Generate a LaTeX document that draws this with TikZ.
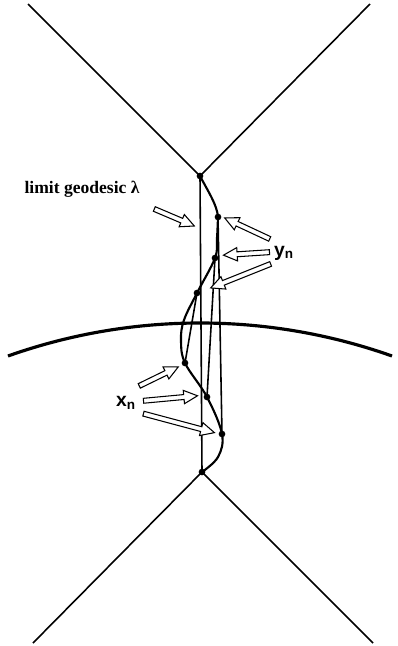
\documentclass[tikz,border=0pt]{standalone}
\usepackage{fontspec}
\setmainfont{Liberation Serif}
\setsansfont{Liberation Sans}
\usetikzlibrary{calc,shapes.arrows}

\begin{document}
\begin{tikzpicture}[
  x=0.02cm,
  y=-0.02cm,
  edge/.style={line width=.9pt},
  geo/.style={line width=1.2pt},
  horizon/.style={line width=1.8pt},
  dot/.style={circle,fill,inner sep=0pt,minimum size=3.8pt},
  hollow/.style={
    single arrow,
    draw,
    fill=white,
    line width=.6pt,
    inner xsep=0pt,
    inner ysep=1.1pt,
    single arrow head extend=2.4pt,
    single arrow tip angle=52,
    sloped,
    allow upside down
  },
  tag/.style={font=\bfseries\fontsize{10}{12}\selectfont},
  subtag/.style={font=\sffamily\bfseries\fontsize{11}{13}\selectfont}
]
  \useasboundingbox (0,0) rectangle (398,646);

  % Apexes and the points along the broken geodesic.
  \coordinate (A) at (200,176);
  \coordinate (B) at (202,472);
  \coordinate (y1) at (218,217);
  \coordinate (y2) at (215,258);
  \coordinate (y3) at (197,293);
  \coordinate (x1) at (185,363);
  \coordinate (x2) at (207,397);
  \coordinate (x3) at (222,434);

  % The two wedges and the horizon arc.
  \draw[edge] (28,4) -- (A) -- (370,4);
  \draw[edge] (33,643) -- (B) -- (373,643);
  \draw[horizon] (8,356) .. controls (132,312) and (268,312) .. (392,356);

  % Limit geodesic and the segments [x_n,y_n].
  \draw[edge] (A) -- (B);
  \draw[edge] (x1) -- (y3);
  \draw[edge] (x2) -- (y2);
  \draw[edge] (x3) -- (y1);

  % Wiggly path from apex to apex.
  \draw[geo] (A) .. controls (209,193) and (217,205) .. (y1);
  \draw[geo] plot[smooth,tension=.6] coordinates {
    (y1) (217,238) (y2) (y3) (184,320) (181,340) (x1) (x2) (x3)
    (218,457) (B)};

  % Labels.
  \node[tag] (lamlabel) at (82,189) {limit geodesic λ};
  \node[subtag] (ylabel) at (284,253) {y\textsubscript{n}};
  \node[subtag] (xlabel) at (126,403) {x\textsubscript{n}};

  % Hollow pointer arrows.
  \coordinate (lamtail) at (152,208); \coordinate (lamtip) at (192,225);
  \coordinate (ytaila) at (272,240); \coordinate (ytipa) at (227,219);
  \coordinate (ytailb) at (272,252); \coordinate (ytipb) at (226,255);
  \coordinate (ytailc) at (273,263); \coordinate (ytipc) at (213,287);
  \coordinate (xtaila) at (137,387); \coordinate (xtipa) at (176,368);
  \coordinate (xtailb) at (141,401); \coordinate (xtipb) at (195,396);
  \coordinate (xtailc) at (141,413); \coordinate (xtipc) at (212,432);
  \foreach \s/\t in {lamtail/lamtip,ytaila/ytipa,ytailb/ytipb,
      ytailc/ytipc,xtaila/xtipa,xtailb/xtipb,xtailc/xtipc} {
    \path let \p1=($(\t)-(\s)$), \n1={veclen(\x1,\y1)} in
      (\s) -- (\t) node[hollow,midway,minimum height=\n1] {};
  }

  % Dots.
  \foreach \p in {A,B,y1,y2,y3,x1,x2,x3}
    \node[dot] at (\p) {};
\end{tikzpicture}
\end{document}
